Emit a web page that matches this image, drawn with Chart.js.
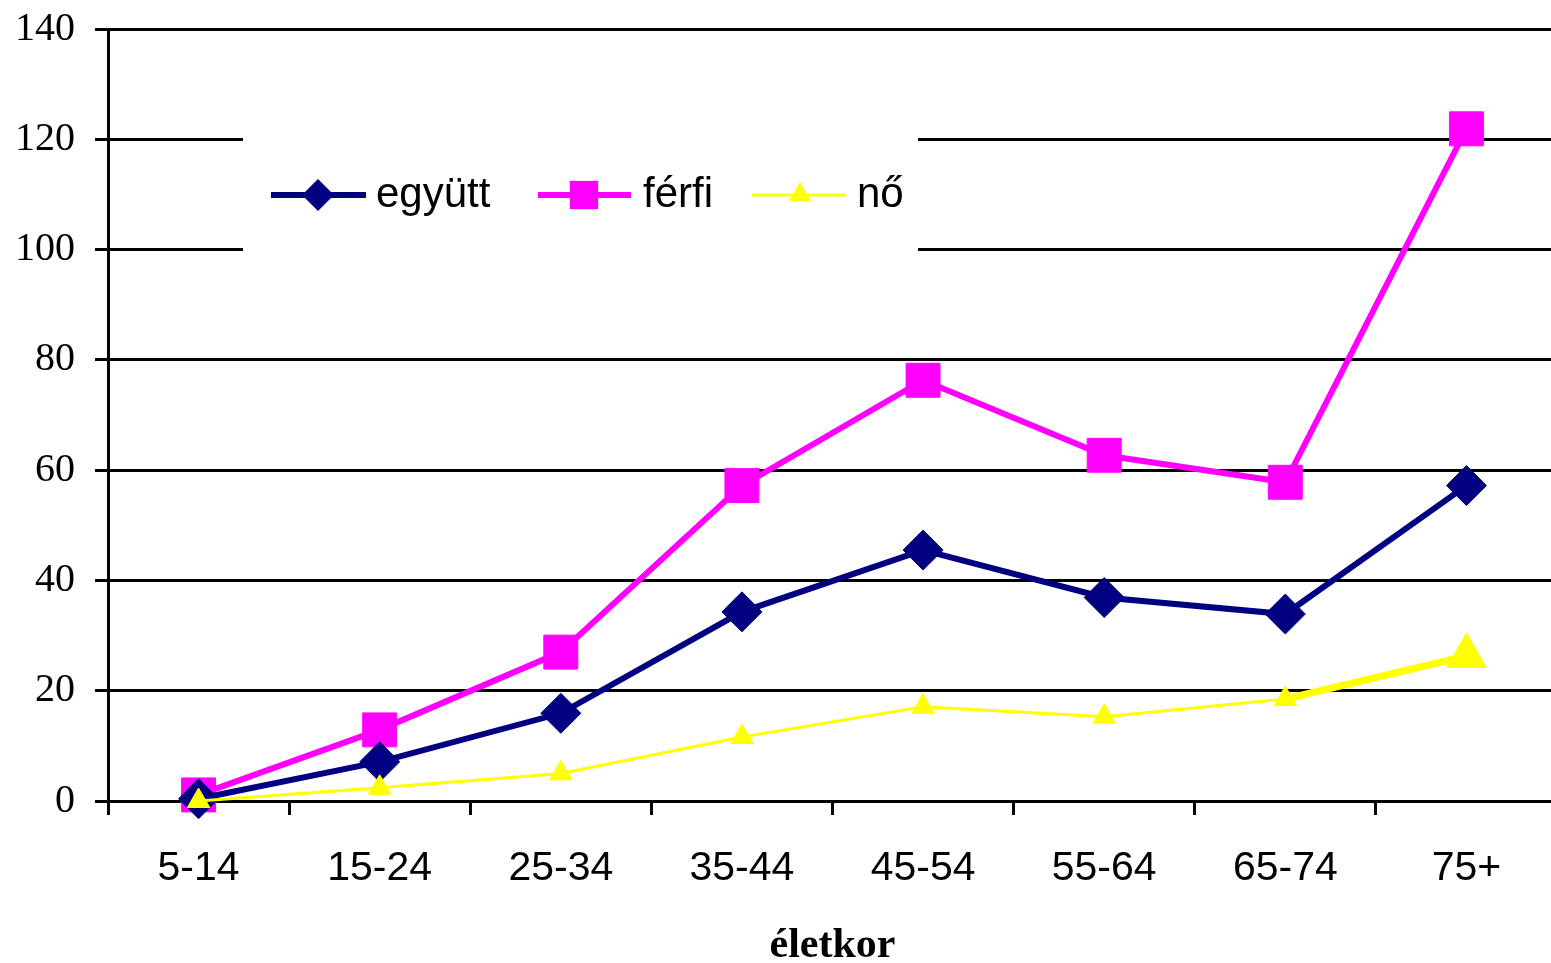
<!DOCTYPE html>
<html>
<head>
<meta charset="utf-8">
<script src="https://cdn.jsdelivr.net/npm/chart.js@4.4.1/dist/chart.umd.min.js"></script>
<style>
  html, body { margin: 0; padding: 0; background: #fff; overflow: hidden; }
  #wrap { width: 1582px; height: 963px; }
</style>
</head>
<body>
<div id="wrap"><canvas id="chart" width="1582" height="963"></canvas></div>
<script>
// age groups and rates
const ageGroups = ["5-14", "15-24", "25-34", "35-44", "45-54", "55-64", "65-74", "75+"];
const egyutt = [0.4, 7.1, 15.9, 34.3, 45.5, 36.9, 33.9, 57.2];
const ferfi = [1.1, 12.9, 27.0, 57.2, 76.3, 62.7, 57.8, 121.9];
const no = [0.0, 2.4, 5.0, 11.6, 17.1, 15.3, 18.5, 26.3];
const seriesNames = ["együtt", "férfi", "nő"];

const NAVY = "#000080";
const PINK = "#FF00FF";
const YELLOW = "#FFFF00";

function drawMarker(ctx, style, r, x, y) {
  if (style === "rectRot") {
    ctx.moveTo(x - r, y); ctx.lineTo(x, y - r); ctx.lineTo(x + r, y); ctx.lineTo(x, y + r);
    ctx.closePath();
  } else if (style === "rect") {
    const s = r * Math.SQRT1_2;
    ctx.rect(x - s, y - s, 2 * s, 2 * s);
  } else {
    const h = r * Math.sqrt(3) / 2;
    ctx.moveTo(x, y - r); ctx.lineTo(x + h, y + r / 2); ctx.lineTo(x - h, y + r / 2);
    ctx.closePath();
  }
}

// legend drawn inside the plot, on a white box
const insideLegend = {
  id: "insideLegend",
  afterDatasetsDraw(chart) {
    const ctx = chart.ctx;
    ctx.save();
    ctx.fillStyle = "#fff";
    ctx.fillRect(243, 137, 675, 114);
    const y = 195;
    const items = [
      { x0: 271, x1: 366, mx: 318, tx: 376, color: NAVY, width: 6, style: "rectRot", r: 16 },
      { x0: 538, x1: 631, mx: 584, tx: 643, color: PINK, width: 6, style: "rect", r: 20 },
      { x0: 752, x1: 846, mx: 800, tx: 857, color: YELLOW, width: 3, style: "triangle", r: 13 }
    ];
    items.forEach((it, i) => {
      ctx.strokeStyle = it.color;
      ctx.lineWidth = it.width;
      ctx.beginPath();
      ctx.moveTo(it.x0, y);
      ctx.lineTo(it.x1, y);
      ctx.stroke();
      ctx.fillStyle = it.color;
      ctx.beginPath();
      drawMarker(ctx, it.style, it.r, it.mx, y);
      ctx.fill();
      ctx.fillStyle = "#000";
      ctx.font = "42px 'Liberation Sans', Arial, sans-serif";
      ctx.textBaseline = "middle";
      ctx.textAlign = "left";
      ctx.fillText(seriesNames[i], it.tx, y);
    });
    ctx.restore();
  }
};

const ctx = document.getElementById("chart").getContext("2d");
new Chart(ctx, {
  type: "line",
  data: {
    labels: ageGroups,
    datasets: [
      {
        label: seriesNames[0],
        data: egyutt,
        borderColor: NAVY,
        backgroundColor: NAVY,
        borderWidth: 6,
        pointStyle: "rectRot",
        pointRadius: 20,
        pointBorderWidth: 1,
        pointBorderColor: NAVY,
        pointBackgroundColor: NAVY,
        tension: 0,
        clip: false,
        order: 2
      },
      {
        label: seriesNames[1],
        data: ferfi,
        borderColor: PINK,
        backgroundColor: PINK,
        borderWidth: 6,
        pointStyle: "rect",
        pointRadius: 24,
        pointBorderWidth: 1,
        pointBorderColor: PINK,
        pointBackgroundColor: PINK,
        tension: 0,
        clip: false,
        order: 3
      },
      {
        label: seriesNames[2],
        data: no,
        borderColor: YELLOW,
        backgroundColor: YELLOW,
        borderWidth: 3,
        segment: {
          borderWidth: c => (c.p1DataIndex === ageGroups.length - 1 ? 7 : 3)
        },
        pointStyle: "triangle",
        pointRadius: [13, 13, 13, 13, 13, 13, 13, 23],
        pointBorderWidth: 1,
        pointBorderColor: YELLOW,
        pointBackgroundColor: YELLOW,
        tension: 0,
        clip: false,
        order: 1
      }
    ]
  },
  options: {
    responsive: false,
    animation: false,
    devicePixelRatio: 1,
    layout: { padding: { top: 29, right: 0, left: 0, bottom: 0 } },
    plugins: {
      legend: { display: false },
      tooltip: { enabled: false }
    },
    scales: {
      x: {
        offset: true,
        afterFit: s => { s.height = 162; },
        grid: {
          drawOnChartArea: false,
          drawTicks: true,
          tickLength: 14,
          color: "#000",
          lineWidth: 3,
          offset: true
        },
        border: { display: true, color: "#000", width: 3 },
        ticks: {
          color: "#000",
          padding: 29,
          maxRotation: 0,
          font: { family: "'Liberation Sans', Arial, sans-serif", size: 41 }
        },
        title: {
          display: true,
          text: "életkor",
          color: "#000",
          padding: 0,
          font: { family: "'Liberation Serif', 'Times New Roman', serif", size: 42, weight: "bold", lineHeight: 0.8 }
        }
      },
      y: {
        min: 0,
        max: 140,
        afterFit: s => { s.width = 108; s.paddingTop = 0; s.paddingBottom = 0; },
        grid: {
          color: "#000",
          lineWidth: 3,
          tickLength: 13,
          drawTicks: true
        },
        border: { display: true, color: "#000", width: 3 },
        ticks: {
          stepSize: 20,
          color: "#000",
          padding: 20,
          font: { family: "'Liberation Serif', 'Times New Roman', serif", size: 40 }
        }
      }
    }
  },
  plugins: [insideLegend]
});
</script>
</body>
</html>
